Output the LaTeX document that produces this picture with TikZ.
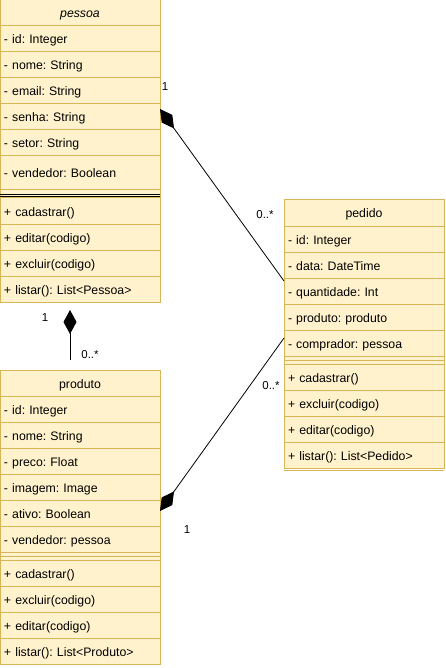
\documentclass[tikz,border=0pt]{standalone}
\usepackage{fontspec}
\setmainfont{Liberation Sans}
\usepackage{xcolor}
\usetikzlibrary{arrows.meta,positioning}
\definecolor{umlfill}{HTML}{FFF2CC}
\definecolor{umlline}{HTML}{D6B656}
\frenchspacing

\begin{document}
\begin{tikzpicture}[x=1pt, y=-1pt, font=\fontsize{12.3}{14}\selectfont,
      row/.style={draw=umlline, fill=umlfill, line width=1pt, inner xsep=4pt,
                  inner ysep=0pt, outer sep=0pt, text width=152pt,
                  text height=11.5pt, text depth=1.5pt,
                  minimum height=26pt, align=left},
      head/.style={row, align=center},
      sepbar/.style={row, minimum height=8pt},
      comp/.style={{Diamond[length=24pt, width=13pt]}-, line width=0.8pt},
      lbl/.style={inner sep=0pt, font=\fontsize{11.5}{13}\selectfont}
    ]
    \useasboundingbox (0,0) rectangle (445,668);

    % pessoa
    \node[head, anchor=north west] (pessoa) at (0,0) {\textit{pessoa}};
    \node[row, below=0pt of pessoa] (pessoa-id) {- id: Integer};
    \node[row, below=0pt of pessoa-id] (pessoa-nome) {- nome: String};
    \node[row, below=0pt of pessoa-nome] (pessoa-email) {- email: String};
    \node[row, below=0pt of pessoa-email] (pessoa-senha) {- senha: String};
    \node[row, below=0pt of pessoa-senha] (pessoa-setor) {- setor: String};
    \node[row, minimum height=34pt, below=0pt of pessoa-setor] (pessoa-vendedor) {- vendedor: Boolean};
    \node[sepbar, text height=0pt, text depth=0pt, below=0pt of pessoa-vendedor] (pessoa-sep) {};
    \node[row, below=0pt of pessoa-sep] (pessoa-cadastrar) {+ cadastrar()};
    \node[row, below=0pt of pessoa-cadastrar] (pessoa-editar) {+ editar(codigo)};
    \node[row, below=0pt of pessoa-editar] (pessoa-excluir) {+ excluir(codigo)};
    \node[row, below=0pt of pessoa-excluir] (pessoa-listar) {+ listar(): List<Pessoa>};
    \draw[black, line width=0.9pt] ([yshift=-0.2pt]pessoa-sep.west) -- ([yshift=-0.2pt]pessoa-sep.east);
    \draw[black, line width=0.9pt] ([yshift=-2.4pt]pessoa-sep.west) -- ([yshift=-2.4pt]pessoa-sep.east);

    % produto
    \node[head, anchor=north west] (produto) at (0,370) {produto};
    \node[row, below=0pt of produto] (produto-id) {- id: Integer};
    \node[row, below=0pt of produto-id] (produto-nome) {- nome: String};
    \node[row, below=0pt of produto-nome] (produto-preco) {- preco: Float};
    \node[row, below=0pt of produto-preco] (produto-imagem) {- imagem: Image};
    \node[row, below=0pt of produto-imagem] (produto-ativo) {- ativo: Boolean};
    \node[row, below=0pt of produto-ativo] (produto-vendedor) {- vendedor: pessoa};
    \node[sepbar, text height=0pt, text depth=0pt, below=0pt of produto-vendedor] (produto-sep) {};
    \draw[umlline, line width=1pt] (produto-sep.west) -- (produto-sep.east);
    \node[row, below=0pt of produto-sep] (produto-cadastrar) {+ cadastrar()};
    \node[row, below=0pt of produto-cadastrar] (produto-excluir) {+ excluir(codigo)};
    \node[row, below=0pt of produto-excluir] (produto-editar) {+ editar(codigo)};
    \node[row, below=0pt of produto-editar] (produto-listar) {+ listar(): List<Produto>};

    % pedido
    \node[head, anchor=north west] (pedido) at (284,200) {pedido};
    \node[row, below=0pt of pedido] (pedido-id) {- id: Integer};
    \node[row, below=0pt of pedido-id] (pedido-data) {- data: DateTime};
    \node[row, below=0pt of pedido-data] (pedido-quantidade) {- quantidade: Int};
    \node[row, below=0pt of pedido-quantidade] (pedido-produto) {- produto: produto};
    \node[row, below=0pt of pedido-produto] (pedido-comprador) {- comprador: pessoa};
    \node[sepbar, text height=0pt, text depth=0pt, below=0pt of pedido-comprador] (pedido-sep) {};
    \draw[umlline, line width=1pt] (pedido-sep.west) -- (pedido-sep.east);
    \node[row, below=0pt of pedido-sep] (pedido-cadastrar) {+ cadastrar()};
    \node[row, below=0pt of pedido-cadastrar] (pedido-excluir) {+ excluir(codigo)};
    \node[row, below=0pt of pedido-excluir] (pedido-editar) {+ editar(codigo)};
    \node[row, below=0pt of pedido-editar] (pedido-listar) {+ listar(): List<Pedido>};
    \draw[umlline, line width=1pt] ([yshift=-2pt]pedido-listar.south west) -- ([yshift=-2pt]pedido-listar.south east);

    % composicoes
    \draw[comp] ([yshift=8pt]pessoa-senha.east) -- ([yshift=10pt]pedido-quantidade.west)
      node[lbl, pos=0, xshift=5pt, yshift=22pt] {1}
      node[lbl, pos=1, xshift=-19pt, yshift=66pt] {0..*};
    \draw[comp] ([yshift=2pt]produto-ativo.east) -- ([yshift=5pt]pedido-comprador.west)
      node[lbl, pos=0, xshift=27pt, yshift=-19pt] {1}
      node[lbl, pos=1, xshift=-13pt, yshift=-48pt] {0..*};
    \draw[comp, shorten <=8pt, shorten >=10pt]
      ([xshift=-10pt]pessoa-listar.south) -- ([xshift=-10pt]produto.north)
      node[lbl, pos=0, xshift=-25pt, yshift=-16pt] {1}
      node[lbl, pos=1, xshift=20pt, yshift=15pt] {0..*};
  \end{tikzpicture}
\end{document}
